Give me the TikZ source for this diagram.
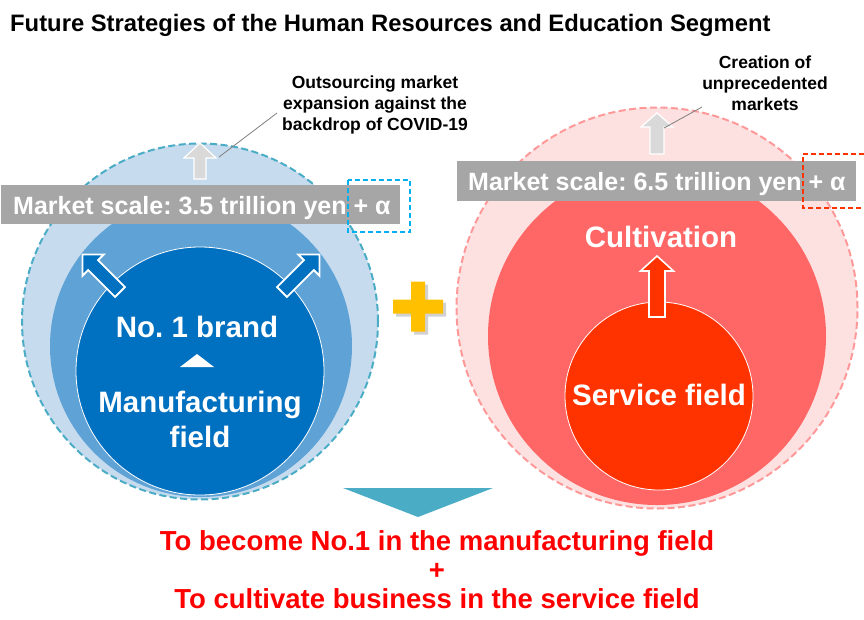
\documentclass[tikz,border=0pt]{standalone}
\usepackage{fontspec}
\setmainfont{Liberation Sans}
\definecolor{lbOuter}{HTML}{C6DCEE}
\definecolor{lbMid}{HTML}{5FA2D6}
\definecolor{lbCore}{HTML}{0070C0}
\definecolor{lbDash}{HTML}{4BACC6}
\definecolor{lbBox}{HTML}{00B0F0}
\definecolor{pkOuter}{HTML}{FDE1E1}
\definecolor{pkDash}{HTML}{FF9999}
\definecolor{pkMid}{HTML}{FF6666}
\definecolor{pkCore}{HTML}{FF3300}
\definecolor{barGray}{HTML}{A6A6A6}
\definecolor{arrGray}{HTML}{D9D9D9}
\definecolor{plusYellow}{HTML}{FFC000}
\definecolor{goalRed}{HTML}{FF0000}
\definecolor{noteLine}{HTML}{7F7F7F}
\begin{document}
\frenchspacing
\begin{tikzpicture}[x=1pt,y=-1pt,
  disc/.style={circle, inner sep=0pt, outer sep=0pt},
  ring/.style={line width=2pt, dash pattern=on 7pt off 3.5pt},
  scalebar/.style={fill=barGray, inner sep=0pt, outer sep=0pt, anchor=north west},
  scaletext/.style={text=white, font=\bfseries\fontsize{25}{30}\selectfont, inner sep=0pt, anchor=base west},
  alphabox/.style={line width=1.4pt, dash pattern=on 5pt off 3pt},
  disctext/.style={text=white, font=\bfseries\fontsize{29.5}{35}\selectfont, inner sep=0pt, align=center},
  notetext/.style={font=\bfseries\fontsize{17.5}{21}\selectfont, inner sep=0pt, align=center, anchor=north},
  noteline/.style={draw=noteLine, line width=0.8pt},
  grayarrow/.style={fill=arrGray, draw=white, line width=1.2pt, line join=miter},
  bluearrow/.style={fill=lbCore, draw=white, line width=1.8pt, line join=miter},
  redarrow/.style={fill=pkCore, draw=white, line width=1.6pt, line join=miter}
]
\useasboundingbox (0,0) rectangle (864,619);

% title
\node[font=\bfseries\fontsize{23.8}{28}\selectfont, inner sep=0pt, anchor=base west] (title) at (10,31) {Future Strategies of the Human Resources and Education Segment};

% ---- manufacturing side ----
\node[disc, minimum size=356pt, fill=lbOuter, draw=lbDash, ring] (mktL) at (200,321.5) {};
\node[disc, minimum size=302pt, fill=lbMid] (growL) at (201,346) {};
\node[disc, minimum size=248pt, fill=lbCore, draw=white, line width=0.8pt] (coreL) at (200,371) {};

% ---- service side ----
\node[disc, minimum size=401pt, fill=pkOuter, draw=pkDash, ring] (mktR) at (657,308) {};
\node[disc, minimum size=338pt, fill=pkMid] (growR) at (657,336) {};
\node[disc, minimum size=188pt, fill=pkCore, draw=white, line width=0.8pt] (coreR) at (659,396) {};

% market scale bars
\node[scalebar, minimum width=399pt, minimum height=39pt] (barL) at (1,185) {};
\node[scaletext] (barLtext) at (13,214) {Market scale: 3.5 trillion yen + α};
\draw[lbBox, alphabox] (348,180) rectangle (410,232);

\node[scalebar, minimum width=399pt, minimum height=40pt] (barR) at (457,161) {};
\node[scaletext] (barRtext) at (468,190) {Market scale: 6.5 trillion yen + α};
\draw[pkCore, alphabox] (864,154) -| (803,208) -- (864,208);

% gray expansion arrows above the bars
\begin{scope}[shift={(200,179)}, rotate=90]
  \draw[grayarrow] (0,-6) -- (21,-6) -- (21,-16) -- (36,0) -- (21,16) -- (21,6) -- (0,6) -- cycle;
\end{scope}
\begin{scope}[shift={(657,154)}, rotate=90]
  \draw[grayarrow] (0,-7) -- (27,-7) -- (27,-16) -- (41,0) -- (27,16) -- (27,7) -- (0,7) -- cycle;
\end{scope}

% notes and leader lines
\node[notetext] (noteL) at (375,76) {Outsourcing market\\expansion against the\\backdrop of COVID-19};
\coordinate (leadL0) at (219,157);
\coordinate (leadL1) at (277,113);
\draw[noteline] (leadL0) -- (leadL1);

\node[notetext] (noteR) at (765,56) {Creation of\\unprecedented\\markets};
\coordinate (leadR0) at (664,128);
\coordinate (leadR1) at (702,107);
\draw[noteline] (leadR0) -- (leadR1);

% blue diagonal arrows
\begin{scope}[shift={(120,292)}, rotate=135]
  \draw[bluearrow] (0,-7) -- (38,-7) -- (38,-15) -- (53,0) -- (38,15) -- (38,7) -- (0,7) -- cycle;
\end{scope}
\begin{scope}[shift={(282,292)}, rotate=45]
  \draw[bluearrow] (0,-7) -- (38,-7) -- (38,-15) -- (53,0) -- (38,15) -- (38,7) -- (0,7) -- cycle;
\end{scope}

% red cultivation arrow
\begin{scope}[shift={(657,317)}, rotate=90]
  \draw[redarrow] (0,-8) -- (46,-8) -- (46,-16.5) -- (61,0) -- (46,16.5) -- (46,8) -- (0,8) -- cycle;
\end{scope}

% texts inside discs
\node[disctext, anchor=base] (brand) at (197,337) {No. 1 brand};
\fill[white] (180,367) -- (214,367) -- (197,354) -- cycle;
\node[disctext, anchor=north] (mfg) at (200,390.5) {Manufacturing\\field};
\node[disctext, anchor=base] (cult) at (661,247) {Cultivation};
\node[disctext, anchor=base] (svc) at (659,405) {Service field};

% plus sign with soft shadow
\fill[black, opacity=0.18] (396,302.5) -- (414,302.5) -- (414,284.5) -- (428,284.5) -- (428,302.5) -- (446,302.5) -- (446,316.5) -- (428,316.5) -- (428,334.5) -- (414,334.5) -- (414,316.5) -- (396,316.5) -- cycle;
\fill[plusYellow] (393,299.5) -- (411,299.5) -- (411,281.5) -- (425,281.5) -- (425,299.5) -- (443,299.5) -- (443,313.5) -- (425,313.5) -- (425,331.5) -- (411,331.5) -- (411,313.5) -- (393,313.5) -- cycle;

% downward triangle
\fill[lbDash] (343,488) -- (493,488) -- (418,517) -- cycle;

% conclusion
\node[text=goalRed, font=\bfseries\fontsize{27.5}{29}\selectfont, inner sep=0pt, align=center, anchor=north] (goal) at (437,530) {To become No.1 in the manufacturing field\\+\\To cultivate business in the service field};
\end{tikzpicture}
\end{document}
